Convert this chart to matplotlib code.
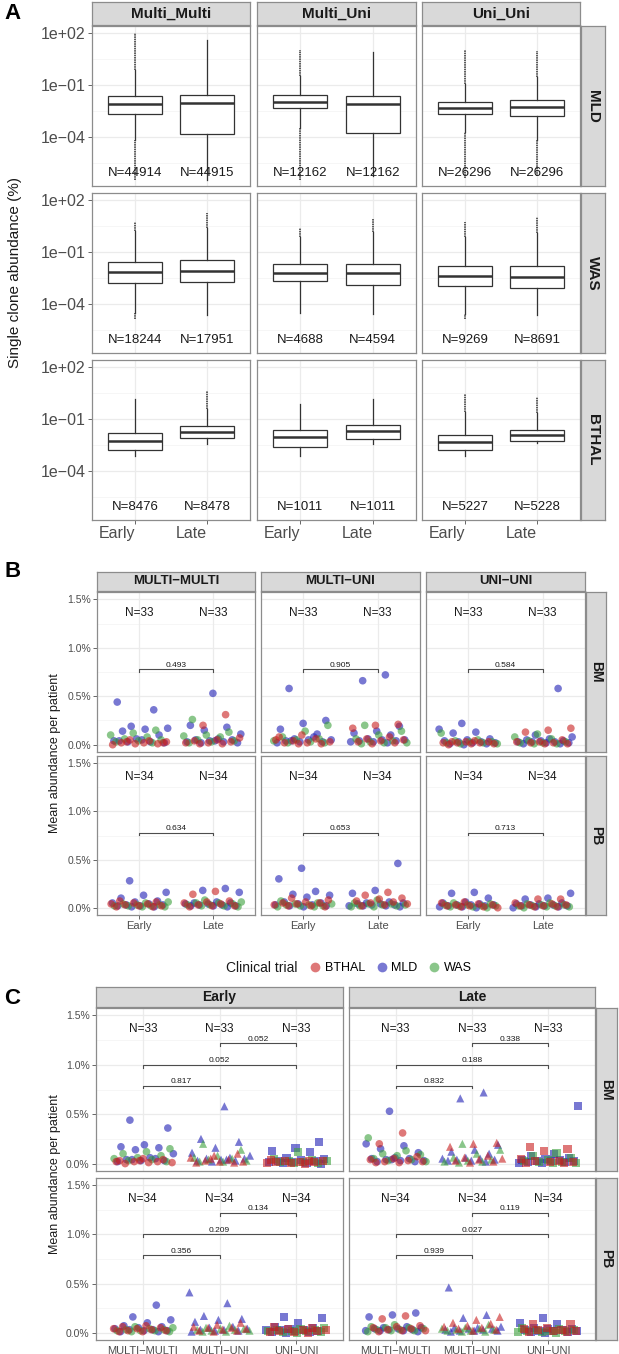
import numpy as np
import matplotlib
matplotlib.use("Agg")
import matplotlib.pyplot as plt
from matplotlib.ticker import NullLocator
from matplotlib.lines import Line2D

plt.rcParams['font.family'] = ['Liberation Sans', 'DejaVu Sans']

# ---------------- panel A: single clone abundance boxplots (log10 of %) ----------------
a_groups = ['Multi_Multi', 'Multi_Uni', 'Uni_Uni']
a_trials = ['MLD', 'WAS', 'BTHAL']
a_times = ['Early', 'Late']

# per trial row, 6 boxes: MM early, MM late, MU early, MU late, UU early, UU late
a_q3 = [[-1.67, -1.60, -1.61, -1.63, -1.98, -1.90],
        [-1.59, -1.49, -1.69, -1.69, -1.83, -1.83],
        [-1.80, -1.44, -1.63, -1.34, -1.92, -1.63]]
a_med = [[-2.10, -2.04, -1.98, -2.10, -2.36, -2.29],
         [-2.16, -2.09, -2.21, -2.25, -2.39, -2.45],
         [-2.28, -1.77, -2.03, -1.73, -2.34, -1.96]]
a_q1 = [[-2.67, -3.86, -2.36, -3.77, -2.67, -2.81],
        [-2.78, -2.75, -2.70, -2.91, -2.96, -3.12],
        [-2.81, -2.11, -2.64, -2.15, -2.81, -2.28]]
a_whishi = [[-0.15, 1.58, -0.48, 0.90, -0.94, -0.53],
            [0.19, 0.40, -0.17, 0.14, -0.14, 0.11],
            [0.14, -0.43, -0.14, 0.14, -0.58, -0.65]]
a_whislo = [[-4.19, -6.50, -3.49, -6.30, -3.70, -4.17],
            [-4.56, -4.67, -4.52, -4.60, -4.60, -4.67],
            [-3.14, -2.43, -3.14, -2.43, -3.14, -2.41]]
nan = np.nan
a_out_hi = [[2.0, nan, 1.0, nan, 1.0, 0.96],
            [0.75, 1.22, 0.40, 0.90, 0.75, 1.03],
            [nan, 0.62, nan, nan, 0.43, 0.28]]
a_out_lo = [[-6.5, nan, -6.5, nan, -6.4, -6.3],
            [-4.9, nan, nan, nan, -4.9, nan],
            [nan, nan, nan, nan, nan, nan]]
a_n = [[44914, 44915, 12162, 12162, 26296, 26296],
       [18244, 17951, 4688, 4594, 9269, 8691],
       [8476, 8478, 1011, 1011, 5227, 5228]]

# ---------------- panels B / C: mean abundance per patient (%) ----------------
tissues = ['BM', 'PB']
groups_bc = ['MULTI\u2212MULTI', 'MULTI\u2212UNI', 'UNI\u2212UNI']
bm_trial = ['MLD'] * 14 + ['WAS'] * 9 + ['BTHAL'] * 10
pb_trial = ['MLD'] * 14 + ['WAS'] * 10 + ['BTHAL'] * 10

bm_mm_early = [0.44, 0.36, 0.19, 0.17, 0.16, 0.14, 0.10, 0.06, 0.04, 0.03, 0.03, 0.02, 0.05, 0.04,
               0.15, 0.12, 0.10, 0.08, 0.06, 0.05, 0.04, 0.03, 0.02,
               0.05, 0.03, 0.02, 0.02, 0.01, 0.01, 0.00, 0.04, 0.03, 0.02]
bm_mm_late = [0.53, 0.20, 0.18, 0.15, 0.11, 0.06, 0.05, 0.05, 0.04, 0.03, 0.03, 0.02, 0.02, 0.04,
              0.26, 0.13, 0.10, 0.09, 0.08, 0.05, 0.04, 0.03, 0.02,
              0.31, 0.20, 0.07, 0.05, 0.04, 0.03, 0.02, 0.02, 0.01, 0.01]
bm_mu_early = [0.58, 0.25, 0.22, 0.16, 0.11, 0.06, 0.05, 0.05, 0.04, 0.03, 0.03, 0.02, 0.08, 0.04,
               0.20, 0.14, 0.08, 0.06, 0.05, 0.04, 0.03, 0.02, 0.02,
               0.10, 0.08, 0.06, 0.04, 0.03, 0.02, 0.02, 0.01, 0.01, 0.05]
bm_mu_late = [0.72, 0.66, 0.19, 0.14, 0.12, 0.10, 0.06, 0.05, 0.05, 0.04, 0.04, 0.03, 0.03, 0.02,
              0.20, 0.14, 0.10, 0.06, 0.04, 0.03, 0.02, 0.02, 0.01,
              0.21, 0.20, 0.17, 0.08, 0.06, 0.05, 0.04, 0.03, 0.02, 0.01]
bm_uu_early = [0.22, 0.16, 0.13, 0.12, 0.06, 0.05, 0.04, 0.03, 0.03, 0.02, 0.02, 0.01, 0.01, 0.00,
               0.12, 0.05, 0.04, 0.03, 0.03, 0.02, 0.02, 0.01, 0.01,
               0.04, 0.03, 0.03, 0.03, 0.02, 0.02, 0.02, 0.01, 0.01, 0.00]
bm_uu_late = [0.58, 0.10, 0.08, 0.06, 0.05, 0.04, 0.04, 0.03, 0.03, 0.03, 0.02, 0.02, 0.01, 0.01,
              0.11, 0.08, 0.06, 0.04, 0.03, 0.02, 0.02, 0.01, 0.01,
              0.17, 0.15, 0.13, 0.05, 0.03, 0.03, 0.02, 0.02, 0.01, 0.01]

pb_mm_early = [0.28, 0.16, 0.13, 0.10, 0.07, 0.06, 0.05, 0.04, 0.03, 0.03, 0.02, 0.02, 0.01, 0.01,
               0.06, 0.05, 0.04, 0.03, 0.03, 0.02, 0.02, 0.02, 0.01, 0.01,
               0.07, 0.06, 0.05, 0.04, 0.04, 0.03, 0.02, 0.02, 0.01, 0.01]
pb_mm_late = [0.20, 0.18, 0.16, 0.06, 0.05, 0.05, 0.04, 0.04, 0.03, 0.03, 0.02, 0.02, 0.02, 0.01,
              0.08, 0.06, 0.05, 0.05, 0.04, 0.03, 0.03, 0.02, 0.02, 0.01,
              0.17, 0.14, 0.07, 0.06, 0.05, 0.04, 0.03, 0.02, 0.02, 0.01]
pb_mu_early = [0.41, 0.30, 0.17, 0.14, 0.13, 0.11, 0.06, 0.05, 0.04, 0.03, 0.03, 0.02, 0.02, 0.01,
               0.07, 0.05, 0.04, 0.04, 0.03, 0.03, 0.02, 0.02, 0.01, 0.01,
               0.10, 0.08, 0.06, 0.05, 0.05, 0.04, 0.03, 0.02, 0.02, 0.01]
pb_mu_late = [0.46, 0.18, 0.15, 0.06, 0.05, 0.05, 0.04, 0.04, 0.03, 0.03, 0.02, 0.02, 0.02, 0.01,
              0.08, 0.05, 0.04, 0.04, 0.03, 0.03, 0.02, 0.02, 0.01, 0.01,
              0.16, 0.13, 0.10, 0.09, 0.07, 0.06, 0.05, 0.04, 0.03, 0.02]
pb_uu_early = [0.16, 0.15, 0.10, 0.06, 0.05, 0.04, 0.03, 0.03, 0.03, 0.02, 0.02, 0.01, 0.01, 0.00,
               0.05, 0.04, 0.03, 0.03, 0.02, 0.02, 0.02, 0.01, 0.01, 0.00,
               0.06, 0.05, 0.04, 0.03, 0.03, 0.02, 0.02, 0.01, 0.01, 0.00]
pb_uu_late = [0.15, 0.10, 0.09, 0.05, 0.04, 0.04, 0.03, 0.03, 0.02, 0.02, 0.02, 0.01, 0.01, 0.00,
              0.05, 0.04, 0.03, 0.03, 0.02, 0.02, 0.02, 0.01, 0.01, 0.00,
              0.09, 0.09, 0.05, 0.04, 0.03, 0.03, 0.02, 0.02, 0.01, 0.01]

# p-values, panel B (Early vs Late per group)
pval_b_bm = ['0.493', '0.905', '0.584']
pval_b_pb = ['0.634', '0.653', '0.713']
# p-values, panel C: MM vs MU, MM vs UU, MU vs UU
pval_c_bm_early = ['0.817', '0.052', '0.052']
pval_c_bm_late = ['0.832', '0.188', '0.338']
pval_c_pb_early = ['0.356', '0.209', '0.134']
pval_c_pb_late = ['0.939', '0.027', '0.119']

trial_names = ['BTHAL', 'MLD', 'WAS']
trial_colors = {'BTHAL': '#C81E1E', 'MLD': '#1E1EB4', 'WAS': '#3CA03C'}

values = {
    ('BM', 0, 0): bm_mm_early, ('BM', 0, 1): bm_mm_late,
    ('BM', 1, 0): bm_mu_early, ('BM', 1, 1): bm_mu_late,
    ('BM', 2, 0): bm_uu_early, ('BM', 2, 1): bm_uu_late,
    ('PB', 0, 0): pb_mm_early, ('PB', 0, 1): pb_mm_late,
    ('PB', 1, 0): pb_mu_early, ('PB', 1, 1): pb_mu_late,
    ('PB', 2, 0): pb_uu_early, ('PB', 2, 1): pb_uu_late,
}
patient_trials = {'BM': bm_trial, 'PB': pb_trial}
pvals_b = {'BM': pval_b_bm, 'PB': pval_b_pb}
pvals_c = {('BM', 0): pval_c_bm_early, ('BM', 1): pval_c_bm_late,
           ('PB', 0): pval_c_pb_early, ('PB', 1): pval_c_pb_late}

# ---------------- figure helpers ----------------
W, H = 619, 1354
fig = plt.figure(figsize=(W / 100, H / 100), dpi=100)

BORDER = '#8C8C8C'
GRID = '#EBEBEB'
TXT = '#4D4D4D'


def px_axes(x0, y0, x1, y1):
    return fig.add_axes([x0 / W, 1 - y1 / H, (x1 - x0) / W, (y1 - y0) / H])


def style_panel(ax, tick_fs):
    ax.set_facecolor('white')
    for s in ax.spines.values():
        s.set_color(BORDER)
        s.set_linewidth(0.9)
    ax.tick_params(length=3, width=0.6, color='#4D4D4D', labelcolor=TXT,
                   labelsize=tick_fs, pad=1.5)
    ax.yaxis.set_minor_locator(NullLocator())
    ax.xaxis.set_minor_locator(NullLocator())


def add_strip(x0, y0, x1, y1, label, fs, rot=0):
    s = px_axes(x0, y0, x1, y1)
    s.set_facecolor('#D9D9D9')
    s.set_xticks([])
    s.set_yticks([])
    for sp in s.spines.values():
        sp.set_color(BORDER)
        sp.set_linewidth(0.9)
    s.text(0.5, 0.5, label, transform=s.transAxes, ha='center', va='center',
           fontsize=fs, fontweight='bold', color='#1A1A1A', rotation=rot)


def jitter(n, phase):
    i = np.arange(n)
    return ((i * 0.618034 + phase) % 1.0 - 0.5) * 0.8


def percent_axis(ax, show_labels):
    ax.set_ylim(-0.075, 1.575)
    for v in [0.25, 0.75, 1.25]:
        ax.axhline(v, color='#F3F3F3', lw=0.5, zorder=0)
    for v in [0.0, 0.5, 1.0, 1.5]:
        ax.axhline(v, color=GRID, lw=0.9, zorder=0)
    ax.set_yticks([0.0, 0.5, 1.0, 1.5])
    if show_labels:
        ax.set_yticklabels(['0.0%', '0.5%', '1.0%', '1.5%'])
    else:
        ax.tick_params(axis='y', length=0, labelleft=False)


def bracket(ax, x0, x1, y, label):
    ax.plot([x0, x0, x1, x1], [y - 0.028, y, y, y - 0.028], color='#4D4D4D', lw=0.8)
    ax.text((x0 + x1) / 2, y + 0.005, label, ha='center', va='bottom', fontsize=6,
            color='#1A1A1A')


# ---------------- panel A ----------------
a_cols = [(92, 250), (257, 416), (422, 580)]
a_rows = [(26, 186), (193, 353), (360, 520)]
for c, g in enumerate(a_groups):
    add_strip(a_cols[c][0], 2, a_cols[c][1], 25, g, 11)
for r, tr in enumerate(a_trials):
    add_strip(581, a_rows[r][0], 605, a_rows[r][1], tr, 11, rot=-90)
    for c in range(3):
        ax = px_axes(a_cols[c][0], a_rows[r][0], a_cols[c][1], a_rows[r][1])
        style_panel(ax, 11.5)
        ax.set_yscale('log')
        ax.set_ylim(10 ** -6.85, 10 ** 2.4)
        ax.set_xlim(0.4, 2.6)
        for v in [0.5, -2.5, -5.5]:
            ax.axhline(10 ** v, color='#F3F3F3', lw=0.5, zorder=0)
        for v in [2, -1, -4]:
            ax.axhline(10.0 ** v, color=GRID, lw=0.9, zorder=0)
        for x in [1, 2]:
            ax.axvline(x, color=GRID, lw=0.9, zorder=0)
        stats = []
        for t in range(2):
            k = 2 * c + t
            stats.append(dict(med=10 ** a_med[r][k], q1=10 ** a_q1[r][k], q3=10 ** a_q3[r][k],
                              whislo=10 ** a_whislo[r][k], whishi=10 ** a_whishi[r][k],
                              fliers=[]))
            if not np.isnan(a_out_hi[r][k]):
                ax.vlines(t + 1, 10 ** a_whishi[r][k], 10 ** a_out_hi[r][k], color='#333333',
                          lw=1.1, linestyles=(0, (1.0, 0.5)), zorder=2)
            if not np.isnan(a_out_lo[r][k]):
                ax.vlines(t + 1, 10 ** a_out_lo[r][k], 10 ** a_whislo[r][k], color='#333333',
                          lw=1.1, linestyles=(0, (1.0, 0.5)), zorder=2)
            ax.text(t + 1, 10 ** -6.08, 'N=%d' % a_n[r][k], ha='center', va='center',
                    fontsize=9.5, color='#1A1A1A', zorder=5)
        ax.bxp(stats, positions=[1, 2], widths=0.75, showfliers=False, showcaps=False,
               patch_artist=True,
               boxprops=dict(facecolor='white', edgecolor='#333333', linewidth=0.9),
               medianprops=dict(color='#333333', linewidth=1.8),
               whiskerprops=dict(color='#333333', linewidth=0.9))
        ax.set_xticks([1, 2])
        ax.set_yticks([1e2, 1e-1, 1e-4])
        ax.yaxis.set_minor_locator(NullLocator())
        if c == 0:
            ax.set_yticklabels(['1e+02', '1e\u221201', '1e\u221204'])
        else:
            ax.tick_params(axis='y', length=0, labelleft=False)
        if r == 2:
            ax.set_xticklabels(a_times, fontsize=11.5, ha='right')
        else:
            ax.tick_params(axis='x', length=0, labelbottom=False)

fig.text(15 / W, 1 - 273 / H, 'Single clone abundance (%)', rotation=90, ha='center',
         va='center', fontsize=11, color='#1A1A1A')

# ---------------- panel B ----------------
b_cols = [(97, 255), (261, 420), (426, 585)]
b_rows = [(592, 752), (756, 915)]
for c, g in enumerate(groups_bc):
    add_strip(b_cols[c][0], 572, b_cols[c][1], 591, g, 9.5)
for r, tis in enumerate(tissues):
    add_strip(586, b_rows[r][0], 606, b_rows[r][1], tis, 10, rot=-90)
    trials = patient_trials[tis]
    cols = [trial_colors[t] for t in trials]
    for c in range(3):
        ax = px_axes(b_cols[c][0], b_rows[r][0], b_cols[c][1], b_rows[r][1])
        style_panel(ax, 7.5)
        ax.set_xlim(0.43, 2.57)
        percent_axis(ax, c == 0)
        for x in [1, 2]:
            ax.axvline(x, color=GRID, lw=0.9, zorder=0)
        for t in range(2):
            vals = values[(tis, c, t)]
            xs = t + 1 + jitter(len(vals), 0.13 * (c + 1) + 0.37 * t + 0.21 * r)
            ax.scatter(xs, vals, c=cols, s=30, alpha=0.6, linewidths=0, zorder=3)
            ax.text(t + 1, 1.36, 'N=%d' % len(vals), ha='center', va='center',
                    fontsize=8.5, color='#1A1A1A')
        bracket(ax, 1, 2, 0.78, pvals_b[tis][c])
        ax.set_xticks([1, 2])
        if r == 1:
            ax.set_xticklabels(a_times, fontsize=8)
        else:
            ax.tick_params(axis='x', length=0, labelbottom=False)

fig.text(55 / W, 1 - 753 / H, 'Mean abundance per patient', rotation=90, ha='center',
         va='center', fontsize=9, color='#1A1A1A')

# legend
fig.text(226 / W, 1 - 968 / H, 'Clinical trial', ha='left', va='center', fontsize=10,
         color='#1A1A1A')
handles = [Line2D([], [], marker='o', ls='', markersize=7, markeredgewidth=0,
                  markerfacecolor=trial_colors[t], alpha=0.6) for t in trial_names]
fig.legend(handles, trial_names, ncol=3, loc='center left',
           bbox_to_anchor=(302 / W, 1 - 968 / H), frameon=False, fontsize=9,
           handletextpad=0.1, columnspacing=0.7, handlelength=1.3, borderaxespad=0)

# ---------------- panel C ----------------
c_cols = [(96, 343), (349, 595)]
c_rows = [(1008, 1171), (1178, 1340)]
markers = ['o', '^', 's']
for t, tm in enumerate(a_times):
    add_strip(c_cols[t][0], 987, c_cols[t][1], 1007, tm, 10)
for r, tis in enumerate(tissues):
    add_strip(596, c_rows[r][0], 617, c_rows[r][1], tis, 10, rot=-90)
    trials = patient_trials[tis]
    cols = [trial_colors[t] for t in trials]
    for t in range(2):
        ax = px_axes(c_cols[t][0], c_rows[r][0], c_cols[t][1], c_rows[r][1])
        style_panel(ax, 7.5)
        ax.set_xlim(0.39, 3.61)
        percent_axis(ax, t == 0)
        for x in [1, 2, 3]:
            ax.axvline(x, color=GRID, lw=0.9, zorder=0)
        for c in range(3):
            vals = values[(tis, c, t)]
            xs = c + 1 + jitter(len(vals), 0.29 * (c + 1) + 0.11 * t + 0.43 * r)
            ax.scatter(xs, vals, c=cols, s=30 if c == 0 else 34, marker=markers[c],
                       alpha=0.6, linewidths=0, zorder=3)
            ax.text(c + 1, 1.36, 'N=%d' % len(vals), ha='center', va='center',
                    fontsize=8.5, color='#1A1A1A')
        p = pvals_c[(tis, t)]
        bracket(ax, 1, 2, 0.79, p[0])
        bracket(ax, 1, 3, 1.00, p[1])
        bracket(ax, 2, 3, 1.22, p[2])
        ax.set_xticks([1, 2, 3])
        if r == 1:
            ax.set_xticklabels(groups_bc, fontsize=8)
        else:
            ax.tick_params(axis='x', length=0, labelbottom=False)

fig.text(55 / W, 1 - 1174 / H, 'Mean abundance per patient', rotation=90, ha='center',
         va='center', fontsize=9, color='#1A1A1A')

# panel letters
for lab, y in [('A', 3), ('B', 561), ('C', 988)]:
    fig.text(4 / W, 1 - y / H, lab, ha='left', va='top', fontsize=16, fontweight='bold')

fig.savefig('out.png', dpi=100)
